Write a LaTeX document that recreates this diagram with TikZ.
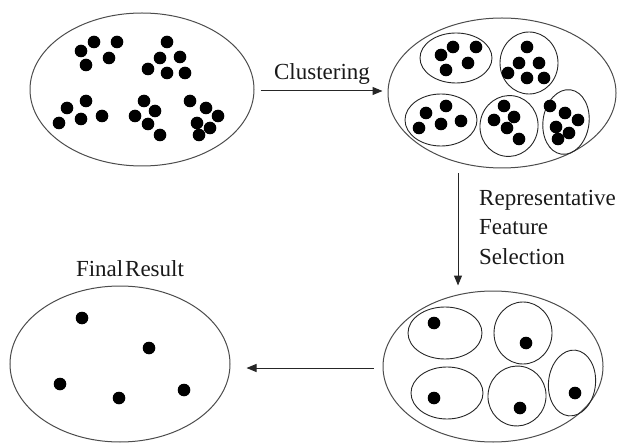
\documentclass[tikz,border=0pt]{standalone}
\usepackage{fontspec}
\setmainfont{Liberation Serif}
\usetikzlibrary{shapes.geometric,arrows.meta}
\tikzset{
  outerell/.style={ellipse,draw=black!70,line width=1pt,inner sep=0pt},
  innerell/.style={ellipse,draw=black!85,line width=0.9pt,inner sep=0pt},
  dot/.style={circle,fill=black,inner sep=0pt,minimum size=12.6pt},
  arr/.style={draw=black!85,line width=1pt,-{Triangle[length=10pt,width=8pt]}},
  lbl/.style={font=\fontsize{23}{29.5}\selectfont,inner sep=0pt,text=black!90}
}
\begin{document}
\begin{tikzpicture}[x=1pt,y=-1pt]
\useasboundingbox (0,0) rectangle (617,443);
% outer ellipses
\node[outerell,minimum width=224pt,minimum height=153pt] (e1) at (142,89.5) {};
\node[outerell,minimum width=228pt,minimum height=150pt] (e2) at (502,93) {};
\node[outerell,minimum width=220pt,minimum height=151pt] (e3) at (493,366.5) {};
\node[outerell,minimum width=220pt,minimum height=156pt] (e4) at (120,364) {};
% ellipse 1 dots
\foreach \x/\y [count=\i] in {81/51,94/42,117/42,109/58,86/65,
  167/42,160/58,180/57,148/69,167/73,185/73,
  86/101,67/108,59/123,81/119,102/116,
  144/101,155/111,135/116,148/124,160/135,
  190/101,206/108,218/116,197/123,210/128,199/135}
  \node[dot] (a\i) at (\x,\y) {};
% ellipse 2 inner clusters
\node[innerell,minimum width=72pt,minimum height=50pt] (c1) at (456,58) {};
\node[innerell,minimum width=58pt,minimum height=62pt] (c2) at (529,63) {};
\node[innerell,minimum width=72pt,minimum height=52pt] (c3) at (441,120) {};
\node[innerell,minimum width=58pt,minimum height=61pt,rotate=-10] (c4) at (509,126) {};
\node[innerell,minimum width=46pt,minimum height=65pt,rotate=-8] (c5) at (566,122) {};
\foreach \x/\y [count=\i] in {441/55,453/47,476/47,468/63,446/70,
  527/47,519/63,539/63,508/73,527/78,544/78,
  446/106,426/113,419/128,441/124,461/121,
  504/106,514/117,494/120,507/128,519/139,
  550/106,565/113,578/120,556/127,569/133,558/139}
  \node[dot] (b\i) at (\x,\y) {};
% ellipse 3 representatives
\node[innerell,minimum width=74pt,minimum height=52pt] (r1) at (445,333) {};
\node[innerell,minimum width=58pt,minimum height=62pt] (r2) at (523,333) {};
\node[innerell,minimum width=72pt,minimum height=52pt] (r3) at (447,393) {};
\node[innerell,minimum width=58pt,minimum height=60pt,rotate=-10] (r4) at (517,396) {};
\node[innerell,minimum width=47pt,minimum height=66pt,rotate=-6] (r5) at (572,383) {};
\node[dot] (s1) at (434,323) {};
\node[dot] (s2) at (526,343) {};
\node[dot] (s3) at (434,398) {};
\node[dot] (s4) at (520,408) {};
\node[dot] (s5) at (575,393) {};
% ellipse 4 final result
\node[dot] (f1) at (82,318) {};
\node[dot] (f2) at (149,348) {};
\node[dot] (f3) at (60,384) {};
\node[dot] (f4) at (119,398) {};
\node[dot] (f5) at (184,390) {};
% labels
\node[lbl] (tclu) at (322,74) {Clustering};
\node[lbl,anchor=north west,align=left] (tsel) at (479,190) {Representative\\Feature\\Selection};
\node[lbl] (tfin) at (130,269) {Final\hspace{0.08em}Result};
% arrows
\coordinate (vx) at (458,0);
\draw[arr] ([xshift=6pt,yshift=-1.5pt]e1.east) -- ([xshift=-5pt,yshift=-1.5pt]e1.east -| e2.west);
\draw[arr] ([yshift=-5pt]e2.south -| vx) -- ([yshift=5pt]e3.north -| vx);
\draw[arr] ([xshift=-9pt,yshift=-1.5pt]e3.west) -- ([xshift=16pt,yshift=-1.5pt]e3.west -| e4.east);
\end{tikzpicture}
\end{document}
